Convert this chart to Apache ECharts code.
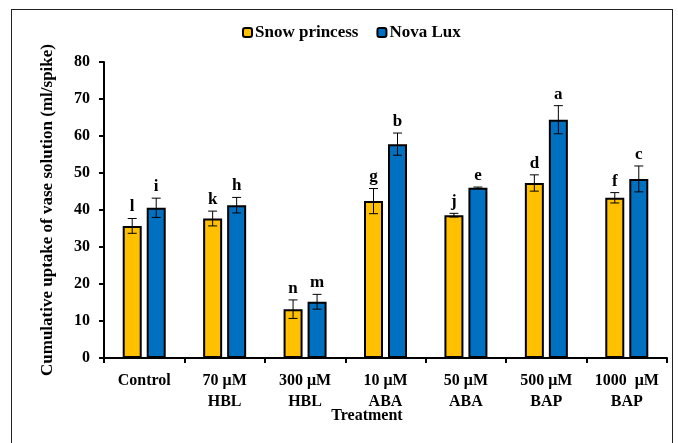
<!DOCTYPE html>
<html><head><meta charset="utf-8">
<script src="https://cdn.jsdelivr.net/npm/echarts@6/dist/echarts.min.js"></script>
<style>html,body{margin:0;padding:0;background:#fff}#c{width:678px;height:443px}
#frame{position:absolute;left:11px;top:9px;width:662px;height:440px;border:1.5px solid #222;box-sizing:border-box;pointer-events:none}</style>
</head><body><div id="c"></div><div id="frame"></div>
<script>
const categories = ['Control', '70 μM\nHBL', '300 μM\nHBL', '10 μM\nABA', '50 μM\nABA', '500 μM\nBAP', '1000  μM\nBAP'];
const snowValues = [35.7, 37.7, 13.2, 42.4, 38.6, 47.3, 43.3];
const snowErrors = [2.0, 2.0, 2.5, 3.4, 0.5, 2.2, 1.4];
const snowLetters = ['l', 'k', 'n', 'g', 'j', 'd', 'f'];
const novaValues = [40.6, 41.3, 15.2, 57.8, 46.0, 64.4, 48.4];
const novaErrors = [2.6, 2.1, 2.0, 3.0, 0.2, 3.8, 3.5];
const novaLetters = ['i', 'h', 'm', 'b', 'e', 'a', 'c'];
const yTicks = [0, 10, 20, 30, 40, 50, 60, 70, 80];

const FONT = '"Liberation Serif", "Times New Roman", serif';
const BAR_W = 19, GAP = 5;

function errSeries(values, errors, letters, side) {
  return {
    type: 'custom',
    z: 5,
    data: values.map((v, i) => [i, v, errors[i], letters[i]]),
    renderItem: function (params, api) {
      const i = api.value(0), v = api.value(1), e = api.value(2);
      const c = api.coord([i, v]);
      const x = c[0] + side * (BAR_W + GAP) / 2;
      const top = api.coord([i, v + e])[1];
      const bot = api.coord([i, v - e])[1];
      const cap = 4.5;
      const st = { stroke: '#000', lineWidth: 1 };
      return {
        type: 'group',
        children: [
          { type: 'line', shape: { x1: x, y1: top, x2: x, y2: bot }, style: st },
          { type: 'line', shape: { x1: x - cap, y1: top, x2: x + cap, y2: top }, style: st },
          { type: 'line', shape: { x1: x - cap, y1: bot, x2: x + cap, y2: bot }, style: st },
          { type: 'text', style: { text: letters[i], x: x, y: top - 3, textAlign: 'center', textVerticalAlign: 'bottom',
              font: 'bold 17px ' + FONT, fill: '#000' } }
        ]
      };
    }
  };
}

const chart = echarts.init(document.getElementById('c'));
chart.setOption({
  animation: false,
  textStyle: { fontFamily: FONT },
  legend: {
    top: 19, left: 237, itemWidth: 9, itemHeight: 9, itemGap: 18,
    textStyle: { fontFamily: FONT, fontWeight: 'bold', fontSize: 17, color: '#000', padding: [0, 0, 0, -2] },
    data: ['Snow princess', 'Nova Lux']
  },
  grid: { left: 104, right: 11, top: 62, bottom: 85 },
  xAxis: {
    type: 'category', data: categories,
    axisLine: { lineStyle: { color: '#000', width: 2 } },
    axisTick: { show: true, length: 5, lineStyle: { color: '#000', width: 2 } },
    axisLabel: { color: '#000', fontFamily: FONT, fontWeight: 'bold', fontSize: 16, lineHeight: 21, margin: 12, interval: 0 }
  },
  yAxis: {
    type: 'value', min: 0, max: 80, interval: 10,
    name: 'Cumulative uptake of vase solution (ml/spike)',
    nameLocation: 'middle', nameGap: 48,
    nameTextStyle: { color: '#000', fontFamily: FONT, fontWeight: 'bold', fontSize: 17 },
    axisLine: { show: true, lineStyle: { color: '#000', width: 2 } },
    axisTick: { show: true, length: 5, lineStyle: { color: '#000', width: 2 } },
    axisLabel: { color: '#000', fontFamily: FONT, fontWeight: 'bold', fontSize: 16, margin: 14,
      formatter: v => yTicks.includes(v) ? String(v) : '' },
    splitLine: { show: false }
  },
  graphic: [{ type: 'text', x: 367, y: 408,
    style: { text: 'Treatment', font: 'bold 16px ' + FONT, fill: '#000', textAlign: 'center', textVerticalAlign: 'top' } }],
  series: [
    { name: 'Snow princess', type: 'bar', data: snowValues, barWidth: BAR_W, barGap: (GAP / BAR_W * 100) + '%',
      itemStyle: { color: '#FFC000', borderColor: '#000', borderWidth: 2 } },
    { name: 'Nova Lux', type: 'bar', data: novaValues, barWidth: BAR_W,
      itemStyle: { color: '#0070C0', borderColor: '#000', borderWidth: 2 } },
    errSeries(snowValues, snowErrors, snowLetters, -1),
    errSeries(novaValues, novaErrors, novaLetters, 1)
  ]
});
</script></body></html>
